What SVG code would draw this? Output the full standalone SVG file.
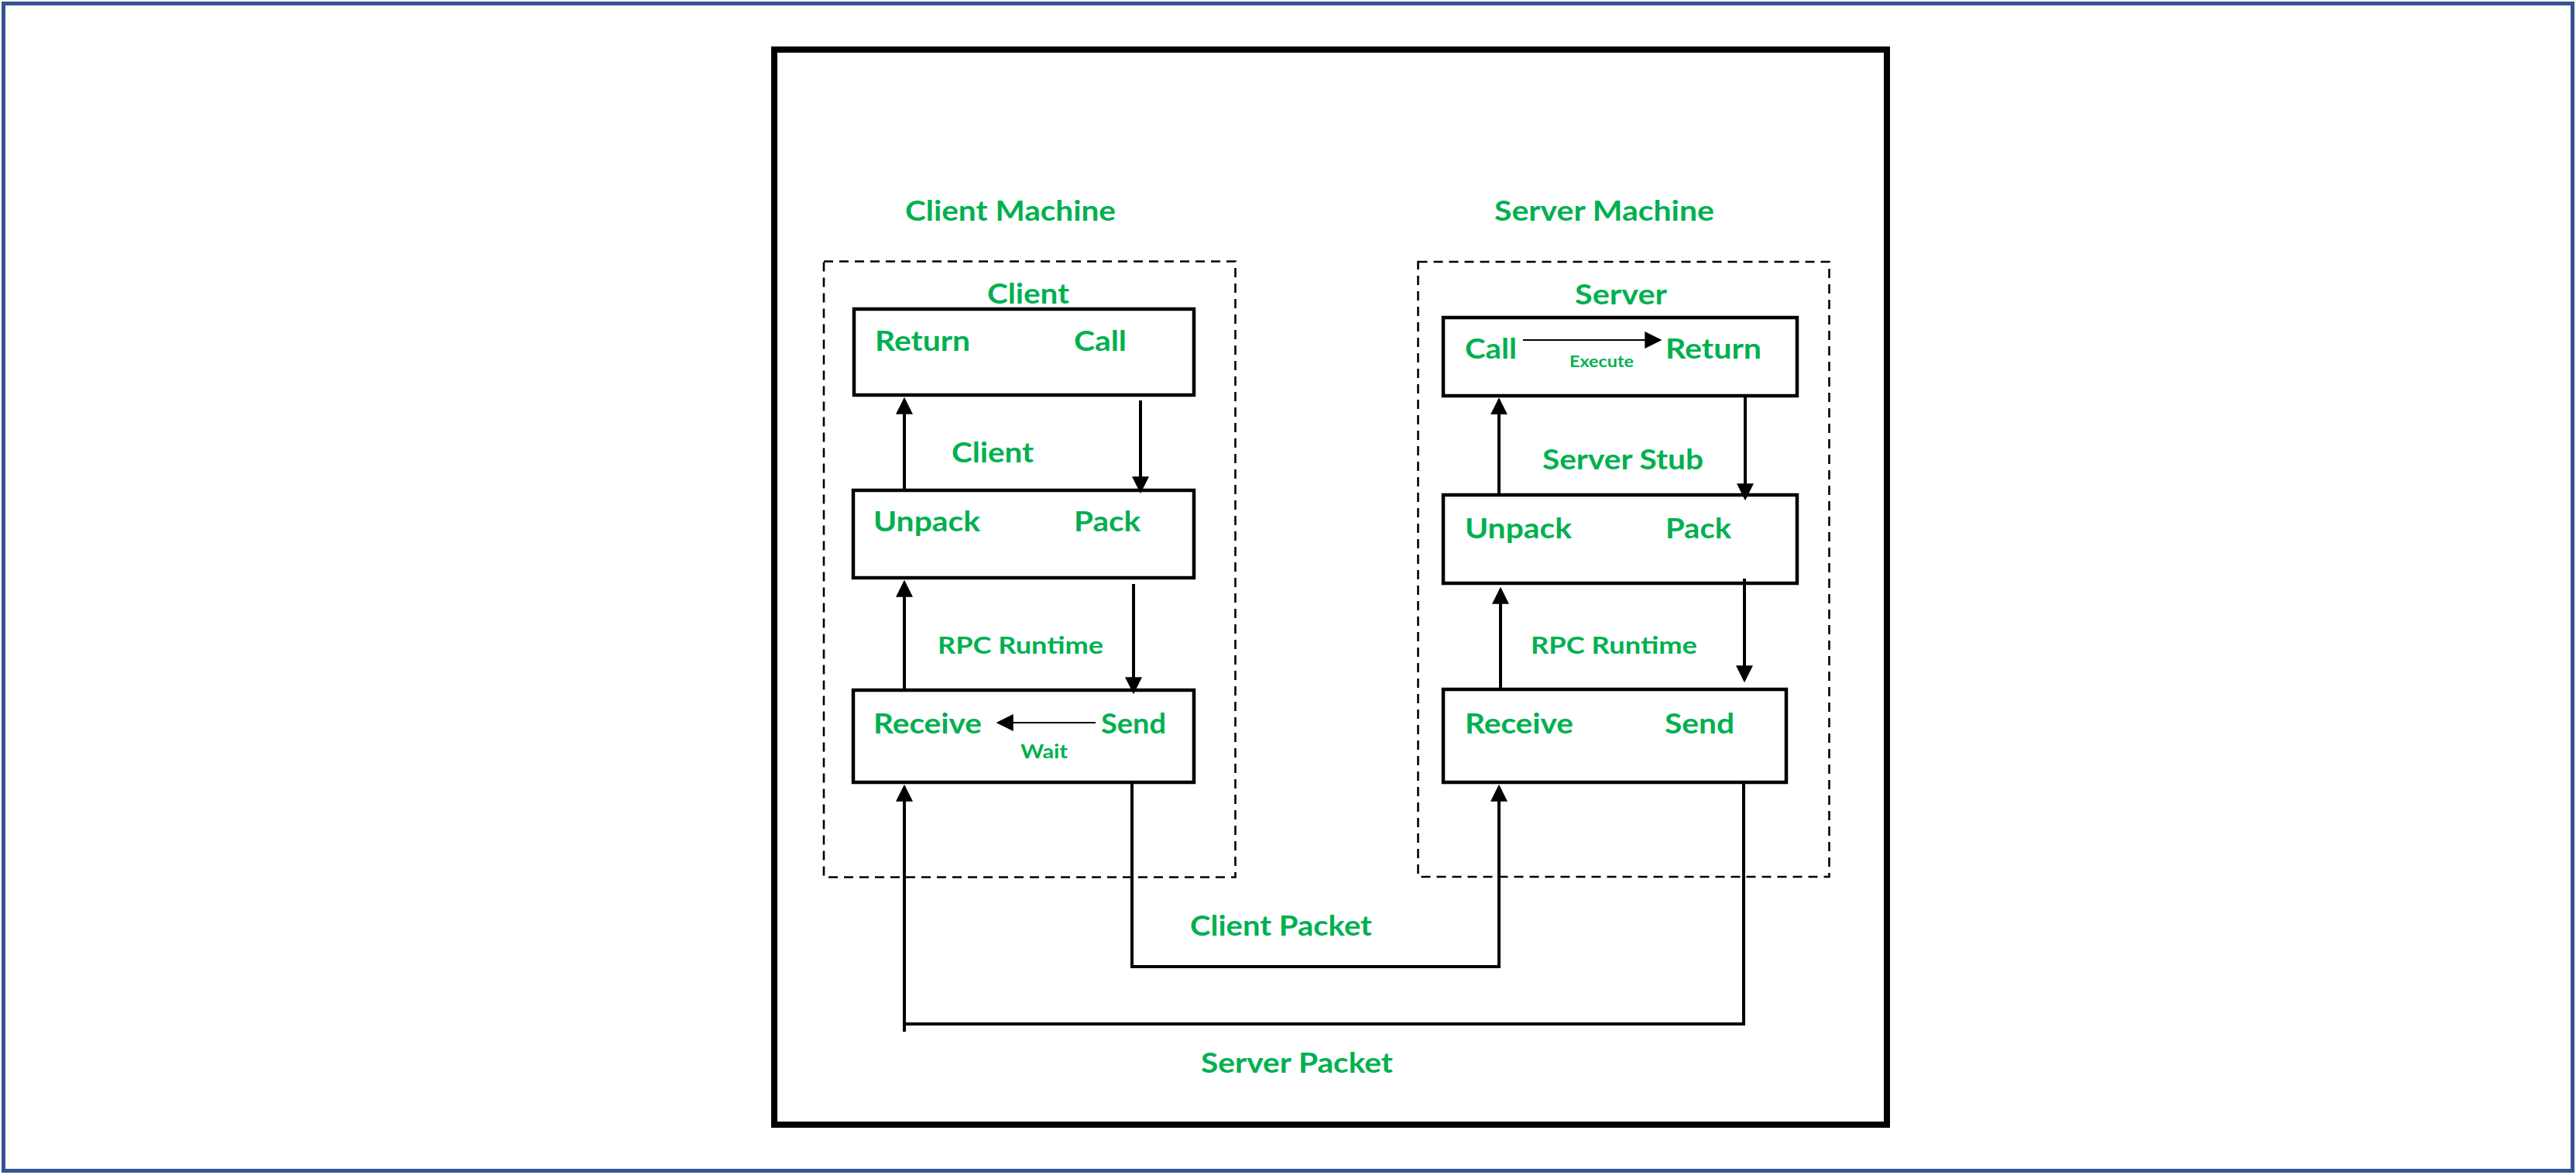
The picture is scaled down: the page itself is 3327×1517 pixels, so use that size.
<svg xmlns="http://www.w3.org/2000/svg" width="3327" height="1517" viewBox="0 0 3327 1517">
  <style>
    .lbl { font-family: Lato, "Open Sans", "Liberation Sans", sans-serif; font-weight: bold; fill: #00B050; }
    .big { font-size: 36px; }
    .mid { font-size: 30px; }
    .sm { font-size: 24px; }
    .xs { font-size: 20px; }
    .box { fill: #FFFFFF; stroke: #000000; stroke-width: 4.5; }
    .dash { fill: none; stroke: #000000; stroke-width: 2.6; stroke-dasharray: 12 8; }
    .conn { fill: none; stroke: #000000; stroke-width: 4; }
    .thin { fill: none; stroke: #000000; stroke-width: 2; }
  </style>
  <defs>
    <marker id="ah" markerUnits="userSpaceOnUse" markerWidth="22" markerHeight="22" viewBox="0 0 20 20" refX="17" refY="10" orient="auto">
      <path d="M0,0 L20,10 L0,20 z" fill="#000000"/>
    </marker>
  </defs>

  <rect width="3327" height="1517" fill="#FFFFFF"/>
  <rect id="outer-border" x="4.5" y="4.5" width="3318" height="1507" fill="none" stroke="#335593" stroke-width="5"/>
  <rect id="frame" x="1000" y="64" width="1437" height="1388" fill="none" stroke="#000000" stroke-width="8"/>

  <g id="client-machine">
    <text class="lbl big" x="1169" y="285" textLength="272" lengthAdjust="spacingAndGlyphs">Client Machine</text>
    <rect class="dash" x="1064" y="337.5" width="531.5" height="795"/>
  </g>
  <g id="server-machine">
    <text class="lbl big" x="1930" y="285" textLength="284" lengthAdjust="spacingAndGlyphs">Server Machine</text>
    <rect class="dash" x="1831.5" y="338" width="531" height="794"/>
  </g>

  <g id="client">
    <text class="lbl big" x="1275" y="392" textLength="106" lengthAdjust="spacingAndGlyphs">Client</text>
    <rect class="box" x="1103" y="399" width="439" height="111"/>
    <text class="lbl big" x="1130" y="453" textLength="123" lengthAdjust="spacingAndGlyphs">Return</text>
    <text class="lbl big" x="1387" y="453" textLength="68" lengthAdjust="spacingAndGlyphs">Call</text>
  </g>
  <g id="client-stub">
    <text class="lbl big" x="1229" y="597" textLength="106" lengthAdjust="spacingAndGlyphs">Client</text>
    <rect class="box" x="1102" y="633" width="440" height="113"/>
    <text class="lbl big" x="1128" y="686" textLength="138" lengthAdjust="spacingAndGlyphs">Unpack</text>
    <text class="lbl big" x="1387" y="686" textLength="86" lengthAdjust="spacingAndGlyphs">Pack</text>
  </g>
  <g id="client-runtime">
    <text class="lbl mid" x="1211" y="844" textLength="214" lengthAdjust="spacingAndGlyphs">RPC Runtime</text>
    <rect class="box" x="1102" y="891" width="440" height="119"/>
    <text class="lbl big" x="1128" y="947" textLength="140" lengthAdjust="spacingAndGlyphs">Receive</text>
    <text class="lbl big" x="1422" y="947" textLength="84" lengthAdjust="spacingAndGlyphs">Send</text>
    <text class="lbl sm" x="1318" y="979" textLength="61" lengthAdjust="spacingAndGlyphs">Wait</text>
  </g>

  <g id="server">
    <text class="lbl big" x="2034" y="393" textLength="119" lengthAdjust="spacingAndGlyphs">Server</text>
    <rect class="box" x="1864" y="410" width="457" height="101"/>
    <text class="lbl big" x="1892" y="463" textLength="67" lengthAdjust="spacingAndGlyphs">Call</text>
    <text class="lbl big" x="2151" y="463" textLength="124" lengthAdjust="spacingAndGlyphs">Return</text>
    <text class="lbl xs" x="2027" y="474" textLength="83" lengthAdjust="spacingAndGlyphs">Execute</text>
  </g>
  <g id="server-stub">
    <text class="lbl big" x="1992" y="606" textLength="208" lengthAdjust="spacingAndGlyphs">Server Stub</text>
    <rect class="box" x="1864" y="639" width="457" height="114"/>
    <text class="lbl big" x="1892" y="695" textLength="138" lengthAdjust="spacingAndGlyphs">Unpack</text>
    <text class="lbl big" x="2151" y="695" textLength="85" lengthAdjust="spacingAndGlyphs">Pack</text>
  </g>
  <g id="server-runtime">
    <text class="lbl mid" x="1977" y="844" textLength="215" lengthAdjust="spacingAndGlyphs">RPC Runtime</text>
    <rect class="box" x="1864" y="890" width="443" height="120"/>
    <text class="lbl big" x="1892" y="947" textLength="140" lengthAdjust="spacingAndGlyphs">Receive</text>
    <text class="lbl big" x="2150" y="947" textLength="90" lengthAdjust="spacingAndGlyphs">Send</text>
  </g>

  <g id="packet-labels">
    <text class="lbl big" x="1537" y="1208" textLength="235" lengthAdjust="spacingAndGlyphs">Client Packet</text>
    <text class="lbl big" x="1551" y="1385" textLength="248" lengthAdjust="spacingAndGlyphs">Server Packet</text>
  </g>

  <g id="connectors">
    <!-- client side -->
    <line class="conn" x1="1168" y1="631" x2="1168" y2="516" marker-end="url(#ah)"/>
    <line class="conn" x1="1473" y1="517" x2="1473" y2="634" marker-end="url(#ah)"/>
    <line class="conn" x1="1168" y1="889" x2="1168" y2="752" marker-end="url(#ah)"/>
    <line class="conn" x1="1464" y1="754" x2="1464" y2="893" marker-end="url(#ah)"/>
    <line class="conn" x1="1168" y1="1332" x2="1168" y2="1016" marker-end="url(#ah)"/>
    <polyline class="conn" points="1462,1012 1462,1248 1936,1248 1936,1016" marker-end="url(#ah)"/>
    <line class="thin" x1="1415" y1="933" x2="1290" y2="933" marker-end="url(#ah)"/>
    <!-- server side -->
    <line class="conn" x1="1936" y1="637" x2="1936" y2="516.5" marker-end="url(#ah)"/>
    <line class="conn" x1="2254" y1="513" x2="2254" y2="643" marker-end="url(#ah)"/>
    <line class="conn" x1="1938" y1="888" x2="1938" y2="761" marker-end="url(#ah)"/>
    <line class="conn" x1="2253" y1="747" x2="2253" y2="878" marker-end="url(#ah)"/>
    <polyline class="conn" points="2252,1012 2252,1322 1166,1322"/>
    <line class="thin" x1="1967" y1="439" x2="2143" y2="439" marker-end="url(#ah)"/>
  </g>
</svg>
